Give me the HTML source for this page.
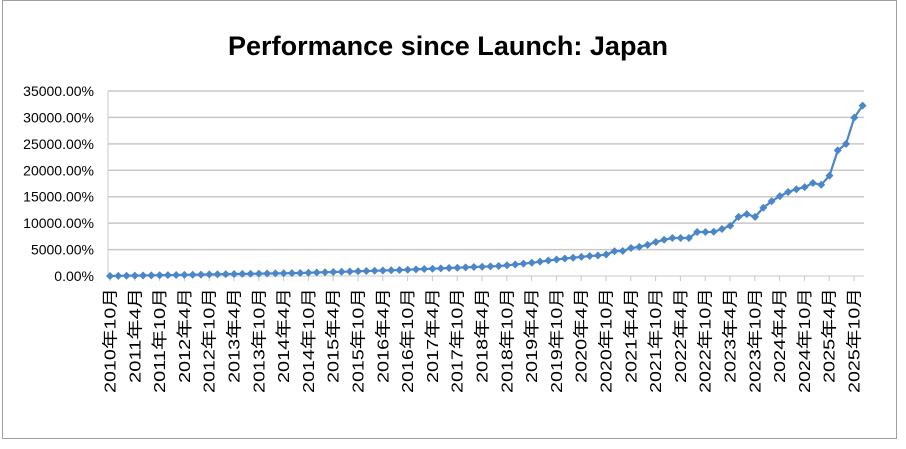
<!DOCTYPE html>
<html><head><meta charset="utf-8"><style>
html,body{margin:0;padding:0;background:#fff;}
svg{display:block;}
</style></head><body>
<svg id="s" width="906" height="449" xmlns="http://www.w3.org/2000/svg">
<rect x="2.5" y="0.5" width="894" height="438" fill="#fff" stroke="#a0a0a0"/>
<text x="448" y="55" text-anchor="middle" font-family="Liberation Sans, sans-serif" font-weight="bold" font-size="27" textLength="440" lengthAdjust="spacingAndGlyphs" fill="#000">Performance since Launch: Japan</text>
<g id="g"></g>
</svg>
<script>
var g=document.getElementById('g'),h='';
var x0=108,x1=864,y0=276,step=185/7;
for(var i=0;i<=7;i++){var y=y0-i*step;
 if(i>0)h+='<line x1="'+x0+'" x2="'+x1+'" y1="'+y+'" y2="'+y+'" stroke="#c8c8c8" stroke-width="1.5"/>';
 h+='<text x="94" y="'+(y+5)+'" text-anchor="end" font-family="Liberation Sans, sans-serif" font-size="14" fill="#000">'+(i*5000)+'.00%</text>';}
h+='<line x1="'+x0+'" x2="'+x0+'" y1="'+(y0-185)+'" y2="'+y0+'" stroke="#c8c8c8"/>';
h+='<line x1="'+x0+'" x2="'+x1+'" y1="'+y0+'" y2="'+y0+'" stroke="#c8c8c8"/>';
var lx0=110,ls=(854-110)/30;
for(var k=0;k<=30;k++){var x=lx0+k*ls,yr=2010+Math.floor((k+1)/2),m=(k%2==0)?'10':'4';
 h+='<line x1="'+x+'" x2="'+x+'" y1="'+y0+'" y2="'+(y0+5)+'" stroke="#c8c8c8"/>';
 var L=(m=='10')?105:95;
 h+='<text transform="translate('+(x+5.5)+',288) rotate(-90)" text-anchor="end" font-family="Liberation Sans, Noto Sans CJK JP, sans-serif" font-size="16" textLength="'+L+'" lengthAdjust="spacingAndGlyphs" fill="#000">'+yr+'年'+m+'月</text>';}
var cp=[[110,276],[300,273],[400,270],[450,268],[500,266],[530,263],[560,259],[590,256],[605,255],[615,251],[623,251],[631,248],[639,247],[647,245],[656,242],[663,240],[672,238],[680,238],[689,238],[697,232],[705,232],[713,232],[722,229],[730,226],[738,217],[747,214],[755,217],[763,208],[772,201],[780,196],[788,192],[797,189],[805,187],[813,183],[821,185],[830,175],[837,151],[846,144],[854,118],[863,105]];
function f(x){for(var i=0;i<cp.length-1;i++){if(x<=cp[i+1][0]){var a=cp[i],b=cp[i+1];return a[1]+(b[1]-a[1])*(x-a[0])/(b[0]-a[0]);}}return cp[cp.length-1][1];}
var pts=[],px=[];
for(var x=110;x<=863.5;x+=8.27){px.push(x);}
px.forEach(function(x){pts.push(x.toFixed(1)+','+f(x).toFixed(1));});
h+='<polyline points="'+pts.join(' ')+'" fill="none" stroke="#4a86c8" stroke-width="2.2"/>';
px.forEach(function(x){var y=f(x);h+='<path d="M'+(x-4)+' '+y+'L'+x+' '+(y-4)+'L'+(x+4)+' '+y+'L'+x+' '+(y+4)+'Z" fill="#4a86c8"/>';});
g.innerHTML=h;
</script>
</body></html>
